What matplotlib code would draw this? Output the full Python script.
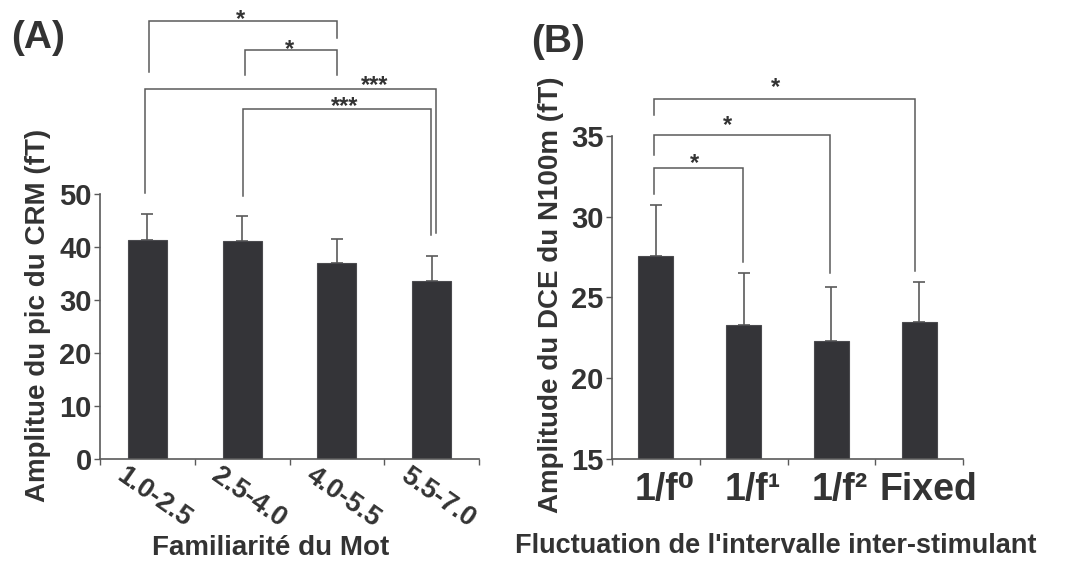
import matplotlib
matplotlib.use('Agg')
import matplotlib.pyplot as plt
from matplotlib import transforms

plt.rcParams['font.family'] = ['Liberation Sans', 'DejaVu Sans']
plt.rcParams['font.weight'] = 'bold'
plt.rcParams['axes.labelweight'] = 'bold'

TXT = '#333333'
BAR = '#343438'
LINE = '#5a5a5a'

# ---------------- data: panel A ----------------
a_categories = ['1.0-2.5', '2.5-4.0', '4.0-5.5', '5.5-7.0']
a_means = [41.3, 41.1, 37.0, 33.6]
a_errors = [4.9, 4.7, 4.5, 4.7]
a_yticks = [0, 10, 20, 30, 40, 50]
a_sig_pairs = [(0, 2), (1, 2), (0, 3), (1, 3)]
a_sig_labels = ['*', '*', '***', '***']

# ---------------- data: panel B ----------------
b_categories = ['1/f\u2070', '1/f\u00b9', '1/f\u00b2', 'Fixed']
b_means = [27.6, 23.3, 22.3, 23.5]
b_errors = [3.1, 3.2, 3.35, 2.45]
b_yticks = [15, 20, 25, 30, 35]
b_sig_pairs = [(0, 1), (0, 2), (0, 3)]
b_sig_labels = ['*', '*', '*']

# layout of significance brackets (data units): top, left leg end, right leg end, x shift of ends, label x, label y
a_br_top = [82.7, 77.2, 69.8, 66.0]
a_br_left = [73.0, 72.5, 50.2, 49.6]
a_br_right = [79.4, 72.5, 42.6, 42.3]
a_br_dx = [(0.02, 0.0), (0.03, 0.0), (-0.02, 0.05), (0.01, -0.01)]
a_lab_x = [0.98, 1.5, 2.4, 2.08]
a_lab_y = [84.3, 78.6, 71.7, 67.9]

b_br_top = [33.0, 35.08, 37.27]
b_br_left = [31.4, 33.8, 36.3]
b_br_right = [27.2, 26.5, 26.66]
b_br_dx = [(-0.02, -0.01), (-0.02, -0.01), (-0.02, -0.05)]
b_lab_x = [0.44, 0.82, 1.36]
b_lab_y = [33.7, 36.1, 38.45]

fig = plt.figure(figsize=(10.83, 5.66), dpi=100)
W, H = 1083, 566

def px_axes(l, r, b, t):
    return fig.add_axes([l / W, 1 - b / H, (r - l) / W, (b - t) / H])

axA = px_axes(100, 479, 459, 194)
axB = px_axes(612, 963, 459, 136)

STAR_FS = 17

def style(ax, ylim, yticks, ncat):
    ax.set_xlim(-0.5, ncat - 0.5)
    ax.set_ylim(*ylim)
    ax.set_yticks(yticks)
    ax.set_xticks([i - 0.5 for i in range(ncat + 1)])
    ax.set_xticklabels([])
    for s in ['top', 'right']:
        ax.spines[s].set_visible(False)
    for s in ['left', 'bottom']:
        ax.spines[s].set_color(LINE)
        ax.spines[s].set_linewidth(1.2)
    ax.tick_params(axis='both', direction='out', length=4, width=1.0, color=LINE,
                   labelcolor=TXT, pad=2)

def draw_bars(ax, means, errs, width):
    x = list(range(len(means)))
    ax.bar(x, means, width=width, color=BAR, edgecolor='#4a4a4e', linewidth=0.8, zorder=2)
    ax.errorbar(x, means, yerr=[[0] * len(errs), errs], fmt='none', ecolor=LINE,
                elinewidth=1.2, capsize=4, capthick=1.2, zorder=1)

def draw_sig(ax, pairs, labels, tops, lefts, rights, dxs, lx, ly):
    star_tr = transforms.offset_copy(ax.transData, fig=fig, y=-0.57 * STAR_FS, units='points')
    for (i, j), lab, t, yl, yr, (d1, d2), sx, sy in zip(pairs, labels, tops, lefts, rights, dxs, lx, ly):
        x1, x2 = i + d1, j + d2
        ax.plot([x1, x1, x2, x2], [yl, t, t, yr], color=LINE, lw=1.1, clip_on=False,
                solid_joinstyle='miter')
        ax.text(sx, sy, lab, transform=star_tr, ha='center', va='baseline',
                fontsize=STAR_FS, color=TXT, clip_on=False)

# ---------- panel A ----------
style(axA, (0, 50), a_yticks, 4)
draw_bars(axA, a_means, a_errors, 0.41)
axA.tick_params(axis='y', labelsize=21)
lab_tr = transforms.blended_transform_factory(axA.transData, axA.transAxes)
for i, c in enumerate(a_categories):
    axA.text(i + 0.065, -39 / 265, c, transform=lab_tr, rotation=-35, ha='center', va='center',
             rotation_mode='anchor', fontsize=19.5, color=TXT)
draw_sig(axA, a_sig_pairs, a_sig_labels, a_br_top, a_br_left, a_br_right, a_br_dx, a_lab_x, a_lab_y)
axA.set_ylabel('Amplitue du pic du CRM (fT)', fontsize=20, color=TXT, va='center', fontweight='bold')
axA.yaxis.set_label_coords(-62 / 379, 0.543)
axA.set_xlabel('Familiarité du Mot', fontsize=20, color=TXT, va='center', fontweight='bold')
axA.xaxis.set_label_coords((271 - 100) / 379, -(548 - 459) / 265)

# ---------- panel B ----------
style(axB, (15, 35), b_yticks, 4)
draw_bars(axB, b_means, b_errors, 0.40)
axB.tick_params(axis='y', labelsize=21)
lab_trB = transforms.blended_transform_factory(axB.transData, axB.transAxes)
for i, c in enumerate(b_categories):
    axB.text(i + 0.1, -31 / 323, c, transform=lab_trB, ha='center', va='center',
             fontsize=27, color=TXT, fontweight='bold',
             family=['Liberation Sans', 'DejaVu Sans'])
draw_sig(axB, b_sig_pairs, b_sig_labels, b_br_top, b_br_left, b_br_right, b_br_dx, b_lab_x, b_lab_y)
axB.set_ylabel('Amplitude du DCE du N100m (fT)', fontsize=20, color=TXT, va='center', fontweight='bold')
axB.yaxis.set_label_coords(-61 / 351, 0.508)
axB.set_xlabel("Fluctuation de l'intervalle inter-stimulant", fontsize=19.5, color=TXT, va='center',
               fontweight='bold')
axB.xaxis.set_label_coords((776 - 612) / 351, -(546 - 459) / 323)

fig.text(38 / W, 1 - 38 / H, '(A)', fontsize=28, color=TXT, ha='center', va='center')
fig.text(558 / W, 1 - 42 / H, '(B)', fontsize=28, color=TXT, ha='center', va='center')

fig.savefig('out.png', dpi=100)
